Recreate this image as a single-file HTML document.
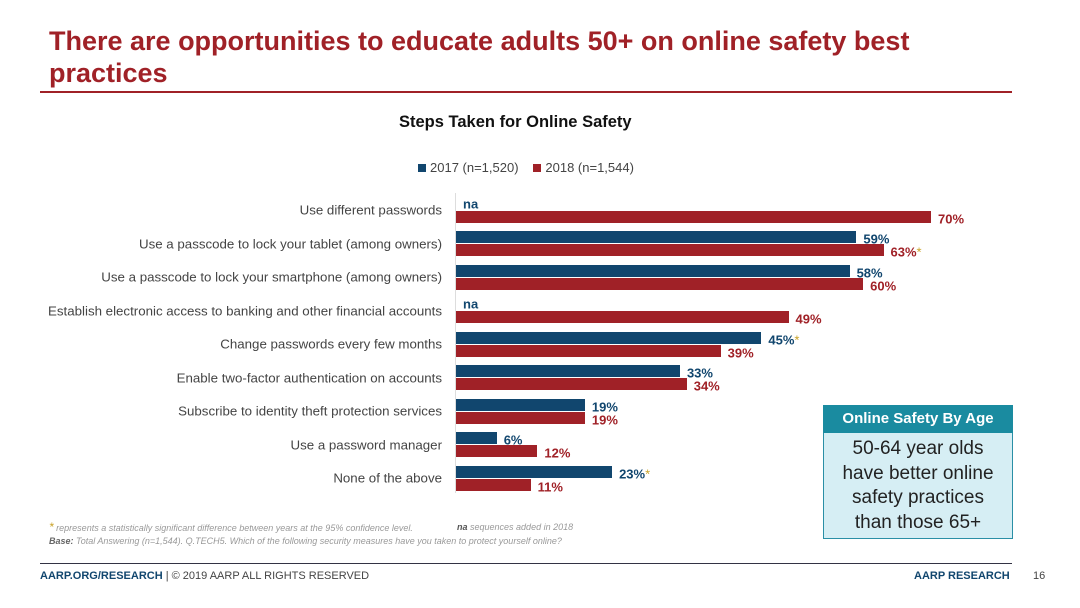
<!DOCTYPE html>
<html><head><meta charset="utf-8"><style>
body{margin:0;width:1080px;height:608px;background:#fff;position:relative;overflow:hidden;font-family:"Liberation Sans",sans-serif}
.a{position:absolute;white-space:nowrap}
.lab{position:absolute;right:638px;font-size:13.3px;color:#444;transform:translateY(-50%)}
.b{position:absolute;left:456px;height:12px}
.bl{background:#11466e}.rd{background:#a02127}
.v{position:absolute;font-size:13px;font-weight:bold;transform:translateY(-50%)}
.vb{color:#11466e}.vr{color:#a02127}
.s{color:#c9a227;font-weight:normal}
</style></head><body>
<div class="a" style="left:49px;top:25px;font-size:27px;font-weight:bold;color:#a02127;line-height:32px">There are opportunities to educate adults 50+ on online safety best<br>practices</div>
<div class="a" style="left:40px;top:91px;width:972px;height:2px;background:#a02127"></div>
<div class="a" style="left:399px;top:113px;font-size:16.5px;font-weight:bold;color:#111">Steps Taken for Online Safety</div>
<div class="a" style="left:418px;top:160px;font-size:13px;color:#444"><span style="display:inline-block;width:8px;height:8px;background:#11466e;margin-right:4px"></span>2017 (n=1,520) &nbsp;&nbsp;<span style="display:inline-block;width:8px;height:8px;background:#a02127;margin-right:4px;margin-left:4px"></span>2018 (n=1,544)</div>
<div class="a" style="left:455px;top:193px;width:1px;height:300px;background:#ddd"></div>
<div id="c"></div>
<div class="a" style="left:823px;top:405px;width:188px;height:132px;border:1px solid #2a8fa6;background:#d6eef4"></div>
<div class="a" style="left:823px;top:405px;width:190px;height:28px;background:#1a8ba0;color:#fff;font-weight:bold;font-size:15px;line-height:28px;text-align:center">Online Safety By Age</div>
<div class="a" style="left:823px;top:437px;width:190px;text-align:center;font-size:19px;line-height:24.5px;color:#222">50-64 year olds<br>have better online<br>safety practices<br>than those 65+</div>
<div class="a" style="left:49px;top:520px;font-size:9px;font-style:italic;color:#999"><span style="color:#c9a227;font-size:12px">*</span> represents a statistically significant difference between years at the 95% confidence level.</div>
<div class="a" style="left:457px;top:522px;font-size:9px;font-style:italic;color:#999"><b style="color:#555">na</b> sequences added in 2018</div>
<div class="a" style="left:49px;top:536px;font-size:9px;font-style:italic;color:#999"><b style="color:#666">Base:</b> Total Answering (n=1,544). Q.TECH5. Which of the following security measures have you taken to protect yourself online?</div>
<div class="a" style="left:40px;top:563px;width:972px;height:1px;background:#334"></div>
<div class="a" style="left:40px;top:570px;font-size:11px;color:#11466e"><b>AARP.ORG/RESEARCH</b> <span style="color:#444">| © 2019 AARP ALL RIGHTS RESERVED</span></div>
<div class="a" style="left:914px;top:570px;font-size:11px;color:#11466e;font-weight:bold">AARP RESEARCH</div>
<div class="a" style="left:1033px;top:570px;font-size:11px;color:#444">16</div>
<script>
var d=[["Use different passwords",null,70,0,0],["Use a passcode to lock your tablet (among owners)",59,63,0,1],["Use a passcode to lock your smartphone (among owners)",58,60,0,0],["Establish electronic access to banking and other financial accounts",null,49,0,0],["Change passwords every few months",45,39,1,0],["Enable two-factor authentication on accounts",33,34,0,0],["Subscribe to identity theft protection services",19,19,0,0],["Use a password manager",6,12,0,0],["None of the above",23,11,1,0]];
var h="",k=6.786;
d.forEach(function(r,i){var bt=197.5+33.5*i,rt=bt+13;
h+='<div class="lab" style="top:'+(bt+12.5)+'px">'+r[0]+'</div>';
if(r[1]==null){h+='<div class="v vb" style="left:463px;top:'+(bt+6)+'px">na</div>';}
else{var w=r[1]*k;h+='<div class="b bl" style="top:'+bt+'px;width:'+w+'px"></div><div class="v vb" style="left:'+(456+w+7)+'px;top:'+(bt+8)+'px">'+r[1]+'%'+(r[3]?'<span class="s">*</span>':'')+'</div>';}
var w2=r[2]*k;h+='<div class="b rd" style="top:'+rt+'px;width:'+w2+'px"></div><div class="v vr" style="left:'+(456+w2+7)+'px;top:'+(rt+8)+'px">'+r[2]+'%'+(r[4]?'<span class="s">*</span>':'')+'</div>';});
document.getElementById("c").innerHTML=h;
</script>
</body></html>
